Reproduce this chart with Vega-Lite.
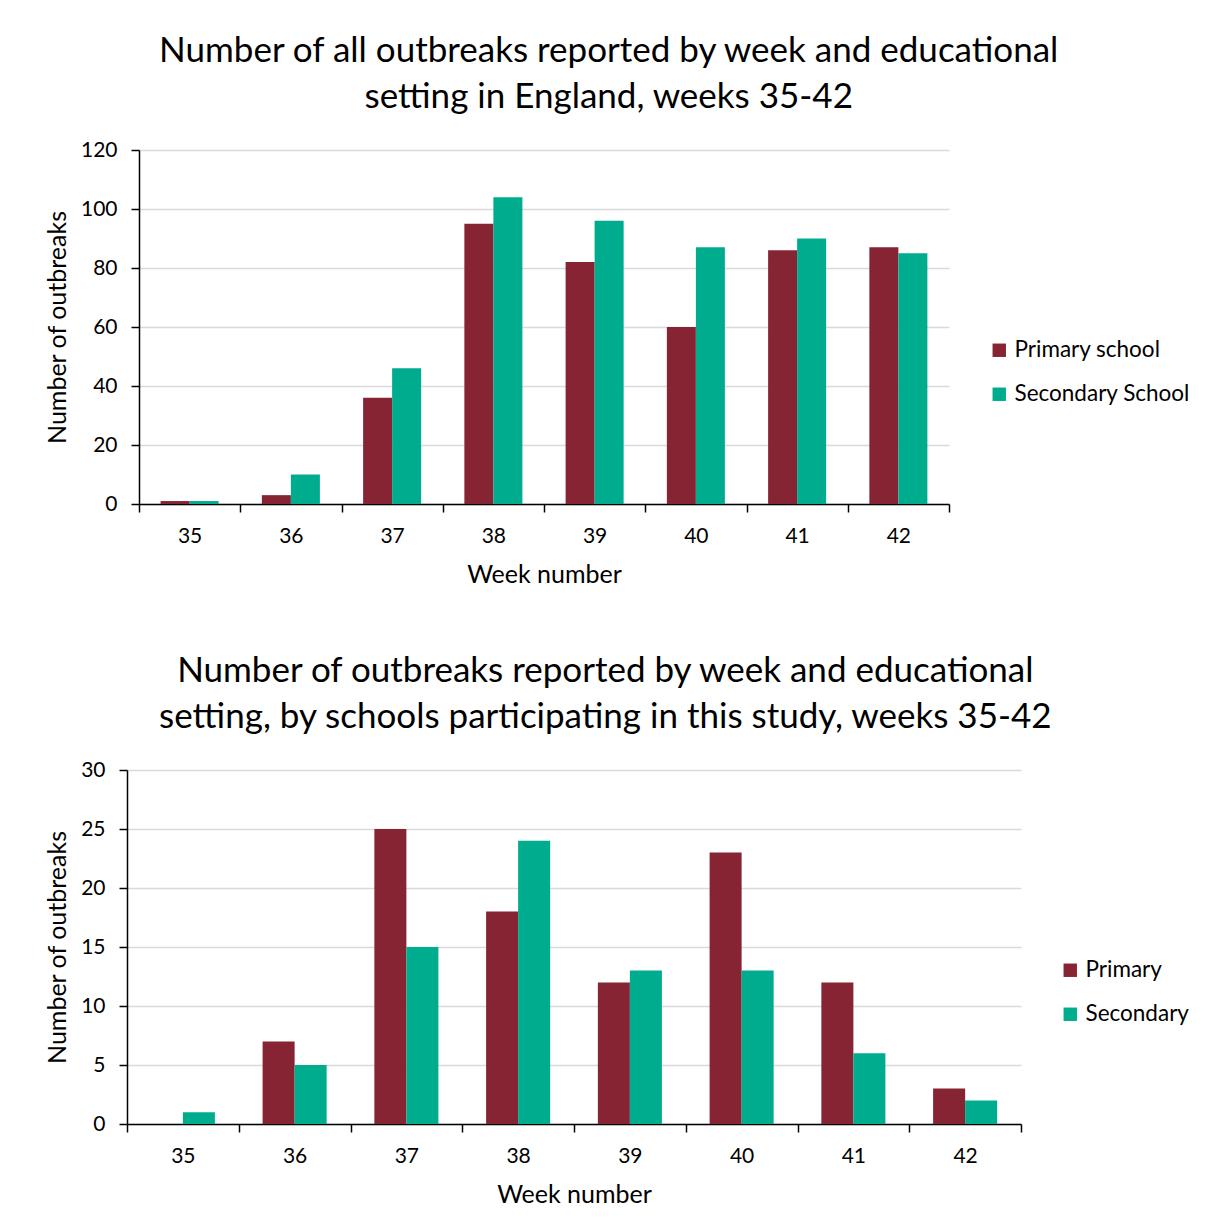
{
  "$schema": "https://vega.github.io/schema/vega-lite/v6.json",
  "background": "white",
  "padding": {"left": 45, "top": 34, "right": 5, "bottom": 5},
  "spacing": 67,
  "config": {
    "font": "Lato",
    "view": {"stroke": null},
    "title": {"fontSize": 35, "fontWeight": "normal", "color": "#000000", "lineHeight": 46, "anchor": "middle", "frame": "bounds", "offset": 24, "dx": -9},
    "axis": {
      "labelFontSize": 21, "titleFontSize": 25, "titleFontWeight": "normal",
      "labelColor": "#000000", "titleColor": "#000000",
      "domainColor": "#000000", "domainWidth": 1.5,
      "tickColor": "#000000", "tickWidth": 1.5, "tickSize": 8
    },
    "axisX": {"grid": false, "labelAngle": 0, "labelPadding": 13, "titlePadding": 16, "tickBand": "extent"},
    "axisY": {"grid": true, "gridColor": "#D9D9D9", "gridWidth": 1.5, "labelPadding": 14, "titlePadding": 10},
    "legend": {"labelFontSize": 22.5, "labelColor": "#000000", "labelLimit": 0, "symbolType": "square", "symbolSize": 180, "symbolStrokeWidth": 0, "rowPadding": 21, "labelOffset": 4}
  },
  "resolve": {"scale": {"color": "independent", "x": "independent", "y": "independent", "xOffset": "independent"}, "legend": {"color": "independent"}},
  "vconcat": [
    {
      "width": 810,
      "height": 354,
      "title": {"text": ["Number of all outbreaks reported by week and educational", "setting in England, weeks 35-42"]},
      "data": {"values": [
        {"week": "35", "setting": "Primary school", "outbreaks": 1},
        {"week": "35", "setting": "Secondary School", "outbreaks": 1},
        {"week": "36", "setting": "Primary school", "outbreaks": 3},
        {"week": "36", "setting": "Secondary School", "outbreaks": 10},
        {"week": "37", "setting": "Primary school", "outbreaks": 36},
        {"week": "37", "setting": "Secondary School", "outbreaks": 46},
        {"week": "38", "setting": "Primary school", "outbreaks": 95},
        {"week": "38", "setting": "Secondary School", "outbreaks": 104},
        {"week": "39", "setting": "Primary school", "outbreaks": 82},
        {"week": "39", "setting": "Secondary School", "outbreaks": 96},
        {"week": "40", "setting": "Primary school", "outbreaks": 60},
        {"week": "40", "setting": "Secondary School", "outbreaks": 87},
        {"week": "41", "setting": "Primary school", "outbreaks": 86},
        {"week": "41", "setting": "Secondary School", "outbreaks": 90},
        {"week": "42", "setting": "Primary school", "outbreaks": 87},
        {"week": "42", "setting": "Secondary School", "outbreaks": 85}
      ]},
      "mark": {"type": "bar"},
      "encoding": {
        "x": {"field": "week", "type": "ordinal", "title": "Week number", "scale": {"paddingInner": 0, "paddingOuter": 0}},
        "xOffset": {"field": "setting", "type": "nominal", "sort": ["Primary school", "Secondary School"], "scale": {"paddingInner": 0, "paddingOuter": 0.745}},
        "y": {"field": "outbreaks", "type": "quantitative", "title": "Number of outbreaks", "scale": {"domain": [0, 120], "nice": false}, "axis": {"values": [0, 20, 40, 60, 80, 100, 120]}},
        "color": {"field": "setting", "type": "nominal", "scale": {"domain": ["Primary school", "Secondary School"], "range": ["#862433", "#00AC8E"]},
          "legend": {"title": null, "orient": "none", "legendX": 849, "legendY": 189}}
      }
    },
    {
      "width": 894,
      "height": 354,
      "title": {"text": ["Number of outbreaks reported by week and educational", "setting, by schools participating in this study, weeks 35-42"], "dx": -12},
      "data": {"values": [
        {"week": "35", "setting": "Primary", "outbreaks": 0},
        {"week": "35", "setting": "Secondary", "outbreaks": 1},
        {"week": "36", "setting": "Primary", "outbreaks": 7},
        {"week": "36", "setting": "Secondary", "outbreaks": 5},
        {"week": "37", "setting": "Primary", "outbreaks": 25},
        {"week": "37", "setting": "Secondary", "outbreaks": 15},
        {"week": "38", "setting": "Primary", "outbreaks": 18},
        {"week": "38", "setting": "Secondary", "outbreaks": 24},
        {"week": "39", "setting": "Primary", "outbreaks": 12},
        {"week": "39", "setting": "Secondary", "outbreaks": 13},
        {"week": "40", "setting": "Primary", "outbreaks": 23},
        {"week": "40", "setting": "Secondary", "outbreaks": 13},
        {"week": "41", "setting": "Primary", "outbreaks": 12},
        {"week": "41", "setting": "Secondary", "outbreaks": 6},
        {"week": "42", "setting": "Primary", "outbreaks": 3},
        {"week": "42", "setting": "Secondary", "outbreaks": 2}
      ]},
      "mark": {"type": "bar"},
      "encoding": {
        "x": {"field": "week", "type": "ordinal", "title": "Week number", "scale": {"paddingInner": 0, "paddingOuter": 0, "range": [-12, 882]}},
        "xOffset": {"field": "setting", "type": "nominal", "sort": ["Primary", "Secondary"], "scale": {"paddingInner": 0, "paddingOuter": 0.745}},
        "y": {"field": "outbreaks", "type": "quantitative", "title": "Number of outbreaks", "scale": {"domain": [0, 30], "nice": false}, "axis": {"values": [0, 5, 10, 15, 20, 25, 30], "offset": 12}},
        "color": {"field": "setting", "type": "nominal", "scale": {"domain": ["Primary", "Secondary"], "range": ["#862433", "#00AC8E"]},
          "legend": {"title": null, "orient": "none", "legendX": 920, "legendY": 189}}
      }
    }
  ]
}
